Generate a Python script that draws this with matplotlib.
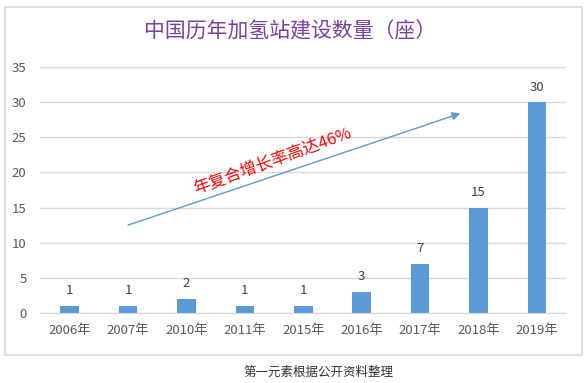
import matplotlib
matplotlib.use("Agg")
import matplotlib.pyplot as plt
from matplotlib.patches import Rectangle

plt.rcParams['font.family'] = ['Noto Sans CJK SC', 'DejaVu Sans']

# data
years = ["2006年", "2007年", "2010年", "2011年", "2015年", "2016年", "2017年", "2018年", "2019年"]
stations = [1, 1, 2, 1, 1, 3, 7, 15, 30]
y_ticks = [0, 5, 10, 15, 20, 25, 30, 35]

title = "中国历年加氢站建设数量（座）"
note = "年复合增长率高达46%"
source = "第一元素根据公开资料整理"

bar_color = "#5B9BD5"
grid_color = "#D9D9D9"
label_color = "#595959"

fig = plt.figure(figsize=(5.86, 3.83), dpi=100)
ax = fig.add_axes([0.069, 0.183, 0.897, 0.642])

x = list(range(len(years)))
ax.bar(x, stations, width=0.32, color=bar_color, zorder=3)
for xi, v in zip(x, stations):
    ax.text(xi, v + 1.2, str(v), ha="center", va="bottom", fontsize=9.5, color="#404040")

ax.set_xlim(-0.5, len(years) - 0.5)
ax.set_ylim(0, 35)
ax.set_yticks(y_ticks)
ax.set_xticks(x)
ax.set_xticklabels(years)
ax.tick_params(axis="both", length=0, labelsize=9.5, labelcolor=label_color)
ax.tick_params(axis="x", pad=8)
ax.tick_params(axis="y", pad=10)
ax.grid(axis="y", color=grid_color, linewidth=1, zorder=0)
for s in ["top", "right", "left"]:
    ax.spines[s].set_visible(False)
ax.spines["bottom"].set_color(grid_color)
ax.spines["bottom"].set_zorder(4)

# trend arrow + annotation
ax.annotate("", xy=(6.69, 28.4), xytext=(1.0, 12.5),
            arrowprops=dict(arrowstyle="-|>", color=bar_color, lw=1.0,
                            mutation_scale=12, shrinkA=0, shrinkB=0), zorder=5)
ax.text(3.48, 21.6, note, color="#FF0000", fontsize=12, rotation=20,
        ha="center", va="center", rotation_mode="anchor", zorder=5)

fig.text(0.495, 0.918, title, ha="center", va="center", fontsize=15, color="#7A3FA0")
fig.patches.append(Rectangle((0.0077, 0.073), 0.985, 0.909, transform=fig.transFigure,
                             fill=False, edgecolor=grid_color, linewidth=1.2))
fig.text(0.543, 0.029, source, ha="center", va="center", fontsize=9, color="#333333")

fig.savefig("out.png", dpi=100)
